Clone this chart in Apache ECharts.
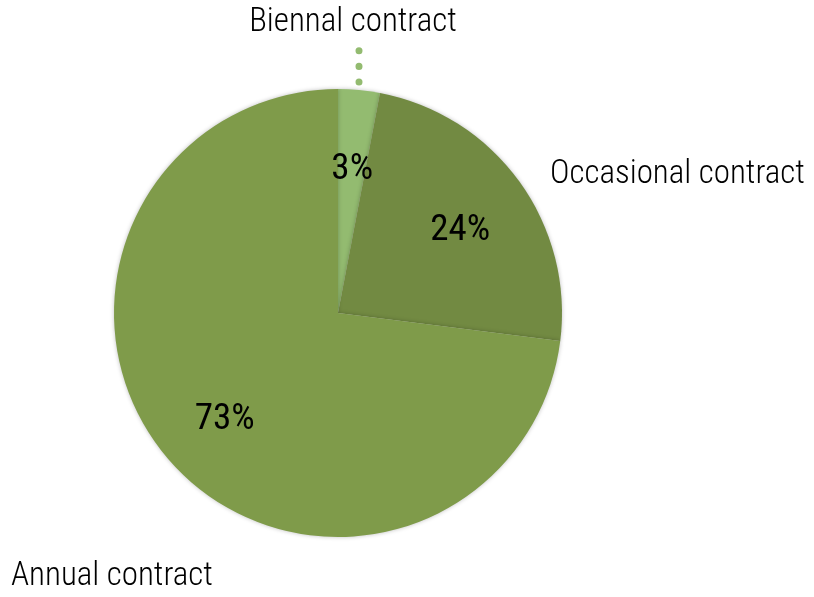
<!DOCTYPE html>
<html>
<head>
<meta charset="utf-8">
<style>
  html, body { margin: 0; padding: 0; background: #fff; }
  #chart { width: 814px; height: 597px; }
</style>
<script src="https://cdn.jsdelivr.net/npm/echarts@6/dist/echarts.min.js"></script>
</head>
<body>
<div id="chart"></div>
<script>
// 数据
const categories = ['Biennal contract', 'Occasional contract', 'Annual contract'];
const shares = [3, 24, 73];
const colors = ['#93bb70', '#728a42', '#7f9b4a'];

// 外侧名称标签的位置（布局用）
const nameLabelPos = [
  { x: 353, y: 23, align: 'center' },
  { x: 550, y: 175, align: 'left' },
  { x: 11, y: 577, align: 'left' },
];

const FONT = '"Roboto Condensed", "Liberation Sans Narrow", "Arial Narrow", Roboto, sans-serif';
const CENTER = [338, 313];
const R = 224;

const chart = echarts.init(document.getElementById('chart'));

const pieData = categories.map((name, i) => ({
  name,
  value: shares[i],
  itemStyle: { color: colors[i] },
  labelLine: { show: i === 0 },
}));

chart.setOption({
  animation: false,
  series: [
    {
      // 饼图本体 + 外侧名称
      type: 'pie',
      center: CENTER,
      radius: [0, R],
      startAngle: 90,
      clockwise: true,
      silent: true,
      data: pieData,
      itemStyle: {
        borderWidth: 0,
        shadowBlur: 4,
        shadowColor: 'rgba(0,0,0,0.25)',
      },
      label: {
        show: true,
        position: 'outside',
        formatter: '{b}',
        fontFamily: FONT,
        fontSize: 33,
        fontWeight: 300,
        color: '#000',
        overflow: 'none',
        width: 400,
      },
      labelLine: {
        length: 40,
        length2: 0,
        smooth: false,
        lineStyle: {
          color: '#93bb70',
          width: 7,
          type: [0.1, 15.5],
          cap: 'round',
        },
      },
      labelLayout: (params) => {
        const p = nameLabelPos[params.dataIndex];
        const out = {
          x: p.x, y: p.y, align: p.align, verticalAlign: 'middle',
        };
        if (params.dataIndex === 0) {
          out.labelLinePoints = [[359, 82], [359, 48]];
        }
        return out;
      },
    },
    {
      // 百分比标签（透明环，用于定位文字）
      type: 'pie',
      center: CENTER,
      radius: [72, R],
      startAngle: 90,
      clockwise: true,
      silent: true,
      z: 3,
      data: categories.map((name, i) => ({ name, value: shares[i] })),
      itemStyle: { color: 'rgba(0,0,0,0)' },
      label: {
        show: true,
        position: 'inside',
        formatter: '{c}%',
        fontFamily: FONT,
        fontSize: 37,
        fontWeight: 400,
        color: '#000',
        offset: [0, 7],
      },
      labelLine: { show: false },
    },
  ],
});
</script>
</body>
</html>
